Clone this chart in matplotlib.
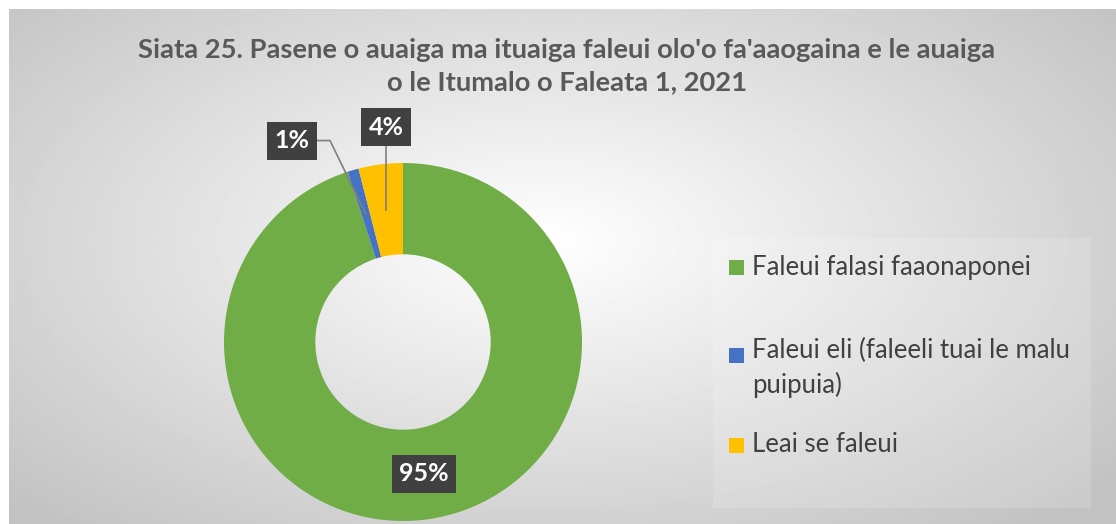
import numpy as np
import matplotlib
matplotlib.use("Agg")
import matplotlib.pyplot as plt
from matplotlib.patches import Rectangle

# Data
labels = ["Faleui falasi faaonaponei",
          "Faleui eli (faleeli tuai le malu\npuipuia)",
          "Leai se faleui"]
values = [95, 1, 4]
colors = ["#70AD47", "#4472C4", "#FFC000"]
title = ("Siata 25. Pasene o auaiga ma ituaiga faleui olo'o fa'aaogaina e le auaiga\n"
         "o le Itumalo o Faleata 1, 2021")

plt.rcParams["font.family"] = ["Lato", "DejaVu Sans"]

W, H = 1116, 524
fig = plt.figure(figsize=(W / 100, H / 100), dpi=100)

# Background with radial gradient (white border at top/left)
bg = fig.add_axes([9 / W, 0, 1 - 9 / W, 1 - 9 / H])
bg.axis("off")
yy, xx = np.mgrid[0:300, 0:600]
cx, cy = 290, 135
r = np.sqrt(((xx - cx) / 300.0) ** 2 + ((yy - cy) / 165.0) ** 2)
g = 1.0 - 0.24 * np.clip(r, 0, 1.35) / 1.35
bg.imshow(g, cmap="gray", vmin=0, vmax=1, aspect="auto", extent=[0, 1, 0, 1])
bg.set_xlim(0, 1)
bg.set_ylim(0, 1)

# Legend box (slightly lighter area)
fig.patches.append(Rectangle((713 / W, 1 - 508 / H), (1091 - 713) / W, (508 - 238) / H,
                             transform=fig.transFigure, facecolor="white",
                             alpha=0.15, edgecolor="none", zorder=1))

# Title
fig.text(567 / W, 1 - 66 / H, title, ha="center", va="center", fontsize=19.7,
         fontweight="bold", color="#595959", linespacing=1.42)

# Donut
R = 179
pcx, pcy = 403, 342
ax = fig.add_axes([(pcx - R) / W, (H - pcy - R) / H, 2 * R / W, 2 * R / H])
wedges, _ = ax.pie(values, colors=colors, startangle=90, counterclock=False,
                   wedgeprops=dict(width=0.51, edgecolor="none"))
ax.set_xlim(-1, 1)
ax.set_ylim(-1, 1)
ax.set_aspect("equal")
ax.axis("off")

box = dict(boxstyle="square,pad=0.3", facecolor="#404040", edgecolor="none")
txt_kw = dict(ha="center", va="center", fontsize=18, fontweight="bold",
              color="white", bbox=box, zorder=5)

mid_r = 0.745
for i, (w, v) in enumerate(zip(wedges, values)):
    ang = np.deg2rad((w.theta1 + w.theta2) / 2)
    px, py = mid_r * np.cos(ang), mid_r * np.sin(ang)
    s = f"{v}%"
    if i == 0:
        ax.text(px, py, s, **txt_kw)
    elif i == 1:
        lx, ly = px - 0.41, py + 0.41
        ax.plot([px, lx + 0.21, lx + 0.14], [py, ly, ly], color="#7f7f7f", lw=1.2,
                clip_on=False, zorder=4)
        ax.text(lx, ly, s, **txt_kw)
    else:
        lx, ly = px, py + 0.46
        ax.plot([px, px], [py, ly - 0.1], color="#7f7f7f", lw=1.2,
                clip_on=False, zorder=4)
        ax.text(lx, ly, s, **txt_kw)

# Legend entries
leg_y = [267, 355, 445]
for lab, c, y in zip(labels, colors, leg_y):
    fig.patches.append(Rectangle((729 / W, 1 - (y + 7.5) / H), 15 / W, 15 / H,
                                 transform=fig.transFigure, facecolor=c,
                                 edgecolor="none", zorder=3))
    if "\n" in lab:
        fig.text(752 / W, 1 - (y - 17) / H, lab, ha="left", va="top", fontsize=18.5,
                 color="#404040", linespacing=1.4)
    else:
        fig.text(752 / W, 1 - y / H, lab, ha="left", va="center", fontsize=18.5,
                 color="#404040")

fig.savefig("out.png", dpi=100)
